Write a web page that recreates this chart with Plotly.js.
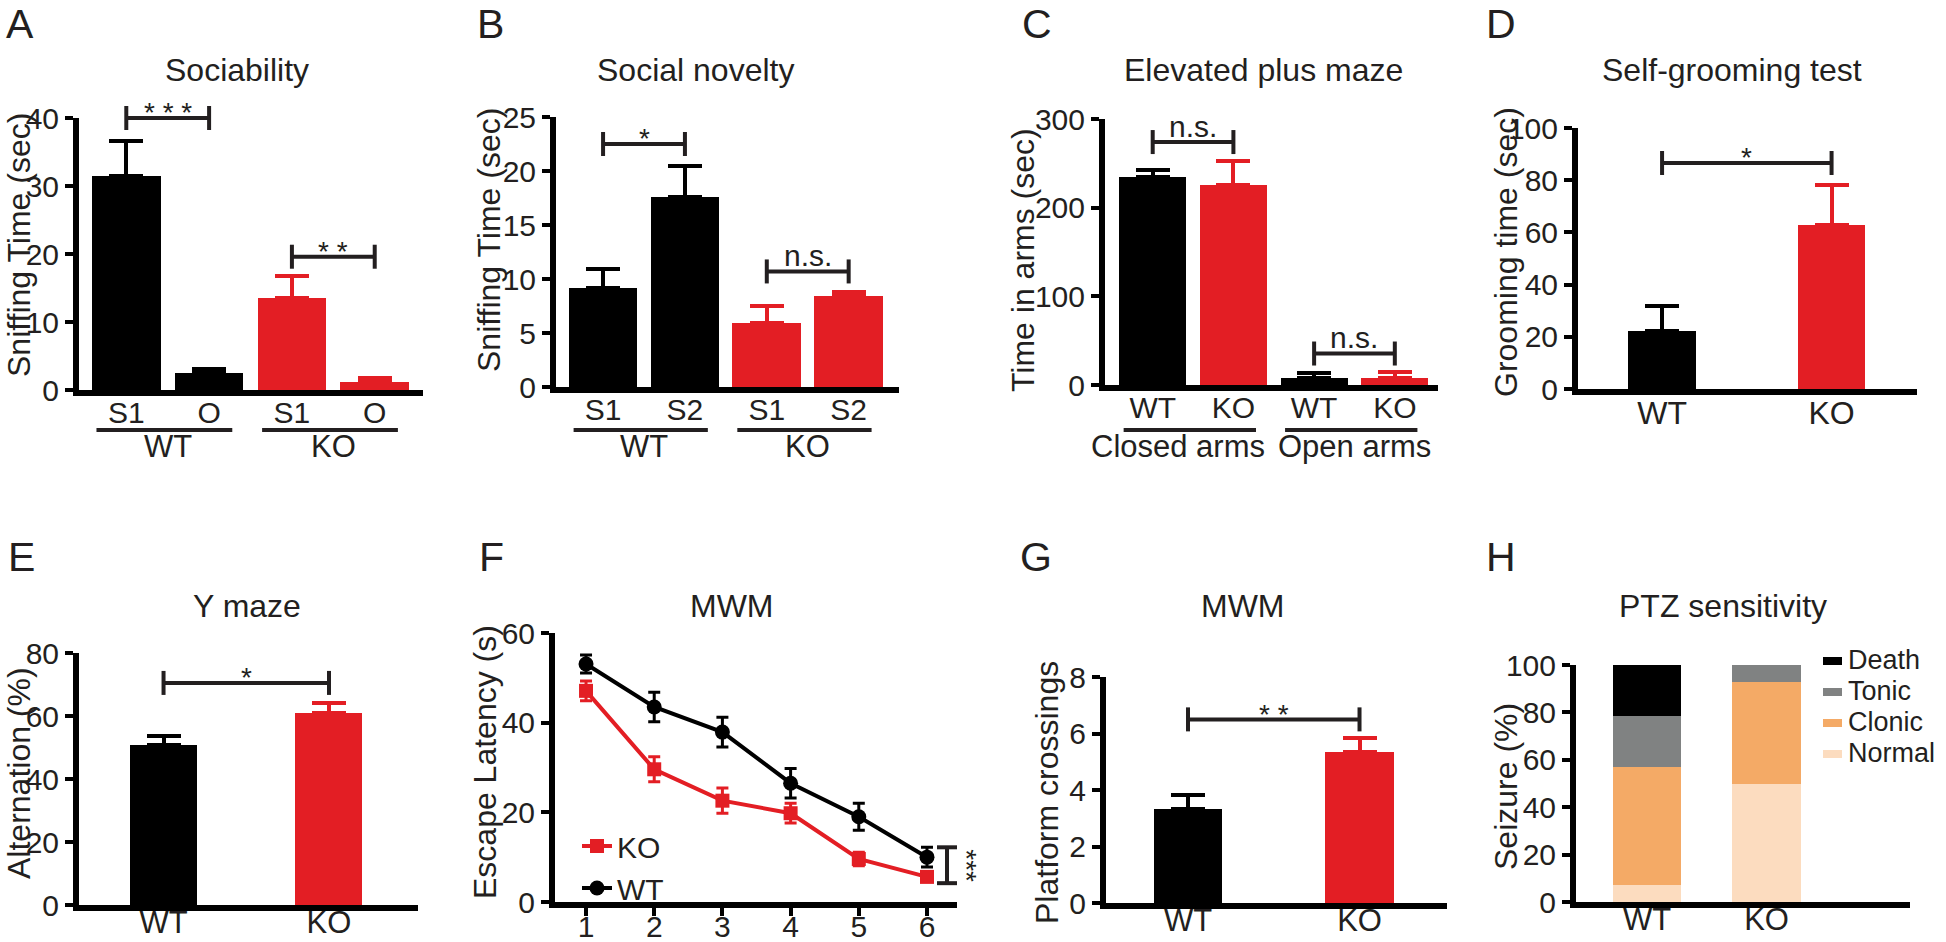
<!DOCTYPE html>
<html>
<head>
<meta charset="utf-8">
<script src="https://cdn.plot.ly/plotly-3.0.1.min.js"></script>
<style>
html,body{margin:0;padding:0;background:#ffffff;}
#chart{width:1946px;height:942px;}
</style>
</head>
<body>
<div id="chart"></div>
<script>
// ================= DATA =================
// A  Sociability (sniffing time, sec)
const socGenotype = ["WT", "WT", "KO", "KO"];
const socChamber  = ["S1", "O", "S1", "O"];
const socMean     = [31.5, 2.5, 13.6, 1.2];
const socSem      = [5.1, 0.6, 3.1, 0.6];

// B  Social novelty (sniffing time, sec)
const novGenotype = ["WT", "WT", "KO", "KO"];
const novChamber  = ["S1", "S2", "S1", "S2"];
const novMean     = [9.2, 17.6, 5.9, 8.4];
const novSem      = [1.7, 2.9, 1.6, 0.4];

// C  Elevated plus maze (time in arms, sec)
const epmArm      = ["Closed arms", "Closed arms", "Open arms", "Open arms"];
const epmGenotype = ["WT", "KO", "WT", "KO"];
const epmMean     = [235, 226, 8, 8];
const epmSem      = [8, 27, 5, 7];

// D  Self-grooming (sec)
const groomGenotype = ["WT", "KO"];
const groomMean     = [22.2, 62.8];
const groomSem      = [9.6, 15.4];

// E  Y maze (alternation, %)
const ymazeGenotype = ["WT", "KO"];
const ymazeMean     = [50.8, 61.0];
const ymazeSem      = [3.0, 3.2];

// F  MWM escape latency (s)
const mwmDays   = [1, 2, 3, 4, 5, 6];
const mwmKOMean = [47.1, 29.6, 22.6, 19.8, 9.6, 5.6];
const mwmKOSem  = [2.2, 2.8, 2.8, 2.2, 1.5, 1.0];
const mwmWTMean = [53.1, 43.5, 37.9, 26.5, 19.0, 10.0];
const mwmWTSem  = [2.0, 3.3, 3.3, 3.3, 3.0, 2.2];

// G  MWM platform crossings
const crossGenotype = ["WT", "KO"];
const crossMean     = [3.33, 5.36];
const crossSem      = [0.49, 0.47];

// H  PTZ sensitivity (seizure, %)
const ptzGenotype = ["WT", "KO"];
const ptzStages   = ["Normal", "Clonic", "Tonic", "Death"];
const ptzNormal   = [7.1, 50.0];
const ptzClonic   = [50.0, 42.9];
const ptzTonic    = [21.4, 7.1];
const ptzDeath    = [21.4, 0.0];

// ================= STYLE / GEOMETRY =================
const W = 1946, H = 942;
const FONT = "'Liberation Sans', Arial, Helvetica, sans-serif";
const INK = '#231f20';
const COL = {WT: '#000000', KO: '#e31e24'};
const PTZ_COL = {Normal: '#fcdcbf', Clonic: '#f4aa66', Tonic: '#808282', Death: '#000000'};
const ptzValues = {Normal: ptzNormal, Clonic: ptzClonic, Tonic: ptzTonic, Death: ptzDeath};
const XLAB_SHIFT_TOP = -9;
const XLAB_SHIFT_BOTTOM = -15;

const fx = p => p / W;
const fy = p => 1 - p / H;

const panels = {
  A: {id: '',  px: [79, 423],    py: [118, 390], yr: [0, 40],  dt: 10,  xr: [-0.571, 3.583], row: 1},
  B: {id: '2', px: [556, 899],   py: [117, 387], yr: [0, 25],  dt: 5,   xr: [-0.575, 3.615], row: 1},
  C: {id: '3', px: [1105, 1438], py: [119, 385], yr: [0, 300], dt: 100, xr: [-0.591, 3.535], row: 1},
  D: {id: '4', px: [1578, 1917], py: [128, 389], yr: [0, 100], dt: 20,  xr: [-0.496, 1.504], row: 1},
  E: {id: '5', px: [79, 418],    py: [653, 905], yr: [0, 80],  dt: 20,  xr: [-0.511, 1.538], row: 2},
  F: {id: '6', px: [555, 957],   py: [633, 902], yr: [0, 60],  dt: 20,  xr: [0.545, 6.44],   row: 2},
  G: {id: '7', px: [1106, 1447], py: [677, 903], yr: [0, 8],   dt: 2,   xr: [-0.478, 1.51],  row: 2},
  H: {id: '8', px: [1576, 1910], py: [665, 902], yr: [0, 100], dt: 20,  xr: [-0.594, 2.2],   row: 2}
};

function yPaper(p, v) {
  const pp = panels[p];
  const f = (v - pp.yr[0]) / (pp.yr[1] - pp.yr[0]);
  return fy(pp.py[1]) + f * (fy(pp.py[0]) - fy(pp.py[1]));
}

const layout = {
  width: W, height: H,
  margin: {l: 0, r: 0, t: 0, b: 0},
  paper_bgcolor: '#ffffff',
  plot_bgcolor: 'rgba(0,0,0,0)',
  barmode: 'stack',
  showlegend: true,
  font: {family: FONT, color: INK},
  annotations: [],
  shapes: [],
  legend: {
    x: fx(577), xanchor: 'left', y: fy(820), yanchor: 'top',
    font: {family: FONT, size: 30, color: INK},
    bgcolor: 'rgba(0,0,0,0)', borderwidth: 0, itemwidth: 30, traceorder: 'normal'
  }
};

function yAxis(p) {
  const pp = panels[p];
  return {
    domain: [fy(pp.py[1]), fy(pp.py[0])], anchor: 'x' + pp.id,
    range: pp.yr, tick0: 0, dtick: pp.dt,
    ticks: 'outside', ticklen: 8, tickwidth: 4, tickcolor: '#000',
    showline: true, linewidth: 6, linecolor: '#000',
    showgrid: false, zeroline: false, fixedrange: true,
    tickfont: {family: FONT, size: 30, color: INK}
  };
}
function xAxisCat(p, keys, labels, size) {
  const pp = panels[p];
  return {
    domain: [fx(pp.px[0]), fx(pp.px[1])], anchor: 'y' + pp.id,
    type: 'category', categoryorder: 'array', categoryarray: keys,
    tickvals: keys, ticktext: labels, range: pp.xr,
    ticks: '', showline: true, linewidth: 6, linecolor: '#000',
    showgrid: false, zeroline: false, fixedrange: true,
    ticklabelstandoff: pp.row === 1 ? XLAB_SHIFT_TOP : XLAB_SHIFT_BOTTOM,
    tickfont: {family: FONT, size: size, color: INK}
  };
}

const traces = [];

function barTraces(p, keys, genotypes, means, sems, width) {
  const pp = panels[p];
  ['WT', 'KO'].forEach(g => {
    const idx = genotypes.map((v, i) => v === g ? i : -1).filter(i => i >= 0);
    traces.push({
      type: 'bar', xaxis: 'x' + pp.id, yaxis: 'y' + pp.id,
      x: idx.map(i => keys[i]), y: idx.map(i => means[i]),
      width: width, marker: {color: COL[g], line: {width: 0}},
      error_y: {type: 'data', symmetric: false, array: idx.map(i => sems[i]),
                arrayminus: idx.map(() => 0), color: COL[g], thickness: 4, width: 17},
      showlegend: false, hoverinfo: 'skip'
    });
  });
}

function runs(arr) {
  const out = [];
  arr.forEach((v, i) => {
    if (out.length && out[out.length - 1].label === v) out[out.length - 1].i1 = i;
    else out.push({label: v, i0: i, i1: i});
  });
  return out;
}

function groupMarks(p, groupArr, labelShift) {
  const pp = panels[p];
  runs(groupArr).forEach((r, k) => {
    const x0 = r.i0 - 0.36, x1 = r.i1 + 0.28;
    layout.shapes.push({type: 'line', xref: 'x' + pp.id, yref: 'paper', x0: x0, x1: x1,
      y0: fy(430), y1: fy(430), line: {color: INK, width: 4}});
    const sh = labelShift ? labelShift[k] : 0;
    layout.annotations.push({xref: 'x' + pp.id, yref: 'paper', x: (r.i0 + r.i1) / 2 + sh, y: fy(446),
      text: r.label, showarrow: false, xanchor: 'center', yanchor: 'middle',
      font: {family: FONT, size: 31, color: INK}});
  });
}

function bracket(p, i0, i1, v, text) {
  const pp = panels[p];
  const xr = 'x' + pp.id;
  const y = yPaper(p, v);
  const d = 12 / H;
  const line = {color: INK, width: 4};
  layout.shapes.push({type: 'line', xref: xr, yref: 'paper', x0: i0, x1: i1, y0: y, y1: y, line: line});
  layout.shapes.push({type: 'line', xref: xr, yref: 'paper', x0: i0, x1: i0, y0: y - d, y1: y + d, line: line});
  layout.shapes.push({type: 'line', xref: xr, yref: 'paper', x0: i1, x1: i1, y0: y - d, y1: y + d, line: line});
  const isStar = text.indexOf('*') >= 0;
  layout.annotations.push({xref: xr, yref: 'paper', x: (i0 + i1) / 2, y: y,
    text: text, showarrow: false, xanchor: 'center', yanchor: 'middle',
    yshift: isStar ? 5 : 16,
    font: {family: FONT, size: isStar ? 28 : 30, color: INK}});
}

// ---------- Panel A ----------
const socKeys = socGenotype.map((g, i) => g + ' ' + socChamber[i]);
barTraces('A', socKeys, socGenotype, socMean, socSem, 0.83);
layout.xaxis = xAxisCat('A', socKeys, socChamber, 30);
layout.yaxis = yAxis('A');
groupMarks('A', socGenotype);
bracket('A', 0, 1, 40.0, '* * *');
bracket('A', 2, 3, 19.6, '* *');

// ---------- Panel B ----------
const novKeys = novGenotype.map((g, i) => g + ' ' + novChamber[i]);
barTraces('B', novKeys, novGenotype, novMean, novSem, 0.84);
layout.xaxis2 = xAxisCat('B', novKeys, novChamber, 30);
layout.yaxis2 = yAxis('B');
groupMarks('B', novGenotype);
bracket('B', 0, 1, 22.5, '*');
bracket('B', 2, 3, 10.7, 'n.s.');

// ---------- Panel C ----------
const epmKeys = epmArm.map((a, i) => a + ' ' + epmGenotype[i]);
barTraces('C', epmKeys, epmGenotype, epmMean, epmSem, 0.83);
layout.xaxis3 = xAxisCat('C', epmKeys, epmGenotype, 30);
layout.yaxis3 = yAxis('C');
groupMarks('C', epmArm, [-0.19, 0]);
bracket('C', 0, 1, 274, 'n.s.');
bracket('C', 2, 3, 35.5, 'n.s.');

// ---------- Panel D ----------
barTraces('D', groomGenotype, groomGenotype, groomMean, groomSem, 0.40);
layout.xaxis4 = xAxisCat('D', groomGenotype, groomGenotype, 32);
layout.yaxis4 = yAxis('D');
bracket('D', 0, 1, 86.6, '*');

// ---------- Panel E ----------
barTraces('E', ymazeGenotype, ymazeGenotype, ymazeMean, ymazeSem, 0.405);
layout.xaxis5 = xAxisCat('E', ymazeGenotype, ymazeGenotype, 31);
layout.yaxis5 = yAxis('E');
bracket('E', 0, 1, 70.5, '*');

// ---------- Panel F ----------
(function () {
  const pp = panels.F;
  traces.push({
    type: 'scatter', mode: 'lines+markers', name: 'KO', xaxis: 'x6', yaxis: 'y6',
    x: mwmDays, y: mwmKOMean,
    line: {color: COL.KO, width: 4}, marker: {symbol: 'square', size: 14, color: COL.KO},
    error_y: {type: 'data', array: mwmKOSem, color: COL.KO, thickness: 3, width: 6},
    cliponaxis: false, hoverinfo: 'skip', showlegend: true
  });
  traces.push({
    type: 'scatter', mode: 'lines+markers', name: 'WT', xaxis: 'x6', yaxis: 'y6',
    x: mwmDays, y: mwmWTMean,
    line: {color: COL.WT, width: 4}, marker: {symbol: 'circle', size: 15, color: COL.WT},
    error_y: {type: 'data', array: mwmWTSem, color: COL.WT, thickness: 3, width: 6},
    cliponaxis: false, hoverinfo: 'skip', showlegend: true
  });
  layout.xaxis6 = {
    domain: [fx(pp.px[0]), fx(pp.px[1])], anchor: 'y6', range: pp.xr,
    tickvals: mwmDays, ticks: 'outside', ticklen: 8, tickwidth: 4, tickcolor: '#000',
    showline: true, linewidth: 6, linecolor: '#000', showgrid: false, zeroline: false,
    fixedrange: true, ticklabelstandoff: XLAB_SHIFT_BOTTOM,
    tickfont: {family: FONT, size: 30, color: INK}
  };
  layout.yaxis6 = yAxis('F');
  // day-6 comparison bracket
  const line = {color: INK, width: 4};
  const y0 = yPaper('F', 4.2), y1 = yPaper('F', 12.2);
  layout.shapes.push({type: 'line', xref: 'paper', yref: 'paper', x0: fx(947), x1: fx(947), y0: y0, y1: y1, line: line});
  layout.shapes.push({type: 'line', xref: 'paper', yref: 'paper', x0: fx(937), x1: fx(957), y0: y0, y1: y0, line: line});
  layout.shapes.push({type: 'line', xref: 'paper', yref: 'paper', x0: fx(937), x1: fx(957), y0: y1, y1: y1, line: line});
  layout.annotations.push({xref: 'paper', yref: 'paper', x: fx(967), y: (y0 + y1) / 2,
    text: '***', textangle: 90, showarrow: false, xanchor: 'center', yanchor: 'middle',
    font: {family: FONT, size: 28, color: INK}});
})();

// ---------- Panel G ----------
barTraces('G', crossGenotype, crossGenotype, crossMean, crossSem, 0.40);
layout.xaxis7 = xAxisCat('G', crossGenotype, crossGenotype, 31);
layout.yaxis7 = yAxis('G');
bracket('G', 0, 1, 6.5, '* *');

// ---------- Panel H ----------
ptzStages.forEach(s => {
  traces.push({
    type: 'bar', xaxis: 'x8', yaxis: 'y8', name: s,
    x: ptzGenotype, y: ptzValues[s], width: 0.57,
    marker: {color: PTZ_COL[s], line: {width: 0}},
    showlegend: false, hoverinfo: 'skip'
  });
});
layout.xaxis8 = xAxisCat('H', ptzGenotype, ptzGenotype, 31);
layout.yaxis8 = yAxis('H');
// stage key (top to bottom: Death, Tonic, Clonic, Normal)
ptzStages.slice().reverse().forEach((s, k) => {
  const cy = 661 + k * 31;
  layout.shapes.push({type: 'rect', xref: 'paper', yref: 'paper',
    x0: fx(1823), x1: fx(1842), y0: fy(cy + 4), y1: fy(cy - 4),
    fillcolor: PTZ_COL[s], line: {width: 0}});
  layout.annotations.push({xref: 'paper', yref: 'paper', x: fx(1846), y: fy(cy - 1),
    text: s, showarrow: false, xanchor: 'left', yanchor: 'middle',
    font: {family: FONT, size: 27, color: INK}});
});

// ---------- letters, titles, y-axis titles ----------
const letterPos = {A: [20, 24], B: [490, 24], C: [1037, 24], D: [1501, 24],
                   E: [21, 557], F: [491, 557], G: [1036, 557], H: [1501, 557]};
const panelTitles = {A: 'Sociability', B: 'Social novelty', C: 'Elevated plus maze', D: 'Self-grooming test',
                     E: 'Y maze', F: 'MWM', G: 'MWM', H: 'PTZ sensitivity'};
const titlePos = {A: [237, 70], B: [695, 70], C: [1263, 70], D: [1732, 70],
                  E: [247, 606], F: [732, 606], G: [1243, 606], H: [1723, 606]};
const yTitles = {A: 'Sniffing Time (sec)', B: 'Sniffing Time (sec)', C: 'Time in arms (sec)',
                 D: 'Grooming time (sec)', E: 'Alternation (%)', F: 'Escape Latency (s)',
                 G: 'Platform crossings', H: 'Seizure (%)'};
const yTitlePos = {A: [19, 245], B: [489, 240], C: [1023, 260], D: [1506, 252],
                   E: [19, 773], F: [485, 762], G: [1047, 793], H: [1506, 787]};

Object.keys(panels).forEach(p => {
  layout.annotations.push({xref: 'paper', yref: 'paper', x: fx(letterPos[p][0]), y: fy(letterPos[p][1]),
    text: p, showarrow: false, xanchor: 'center', yanchor: 'middle',
    font: {family: FONT, size: 41, color: INK}});
  layout.annotations.push({xref: 'paper', yref: 'paper', x: fx(titlePos[p][0]), y: fy(titlePos[p][1]),
    text: panelTitles[p], showarrow: false, xanchor: 'center', yanchor: 'middle',
    font: {family: FONT, size: 32, color: INK}});
  layout.annotations.push({xref: 'paper', yref: 'paper', x: fx(yTitlePos[p][0]), y: fy(yTitlePos[p][1]),
    text: yTitles[p], textangle: -90, showarrow: false, xanchor: 'center', yanchor: 'middle',
    font: {family: FONT, size: 32, color: INK}});
});

Plotly.newPlot('chart', traces, layout, {staticPlot: true, displayModeBar: false});
</script>
</body>
</html>
